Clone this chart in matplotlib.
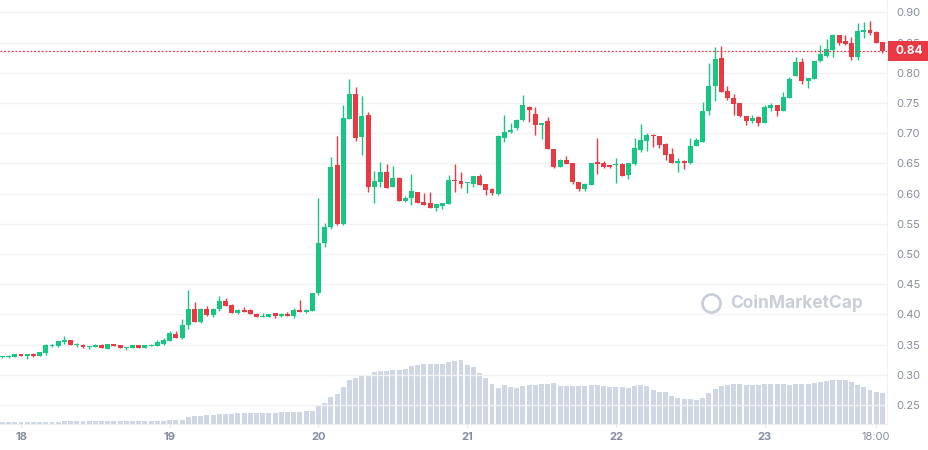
import numpy as np
import matplotlib
matplotlib.use("Agg")
import matplotlib.pyplot as plt
import matplotlib.dates as mdates
from matplotlib.patches import Rectangle
import pandas as pd

plt.rcParams['font.family'] = ['Inter', 'DejaVu Sans']

# hourly candles, first one is 17th 21:00
START = '2024-01-17 21:00'

opens = [
    0.3300, 0.3300, 0.3301, 0.3344, 0.3317, 0.3349, 0.3312, 0.3365, 0.3478, 0.3478,
    0.3538, 0.3570, 0.3489, 0.3500, 0.3462, 0.3462, 0.3489, 0.3430, 0.3505, 0.3489,
    0.3446, 0.3446, 0.3489, 0.3446, 0.3478, 0.3473, 0.3516, 0.3559, 0.3680, 0.3605,
    0.3820, 0.4090, 0.3870, 0.4090, 0.3985, 0.4090, 0.4225, 0.4150, 0.4030, 0.4075,
    0.4070, 0.4007, 0.3963, 0.3963, 0.4023, 0.3975, 0.4007, 0.3975, 0.4073, 0.4040,
    0.4056, 0.4350, 0.5187, 0.5450, 0.6470, 0.5500, 0.7238, 0.7646, 0.6940, 0.7298,
    0.6105, 0.6188, 0.6354, 0.6110, 0.6254, 0.5878, 0.5928, 0.6022, 0.5856, 0.5840,
    0.5762, 0.5795, 0.5823, 0.6221, 0.6204, 0.6166, 0.6160, 0.6288, 0.6155, 0.6071,
    0.6000, 0.6927, 0.7022, 0.7077, 0.7211, 0.7428, 0.7322, 0.7139, 0.7194, 0.6738,
    0.6444, 0.6555, 0.6500, 0.6194, 0.6071, 0.6138, 0.6516, 0.6500, 0.6472, 0.6472,
    0.6488, 0.6305, 0.6488, 0.6727, 0.6877, 0.6977, 0.6955, 0.6822, 0.6655, 0.6511,
    0.6538, 0.6505, 0.6794, 0.6861, 0.7372, 0.7772, 0.8237, 0.7698, 0.7578, 0.7495,
    0.7287, 0.7193, 0.7270, 0.7160, 0.7424, 0.7468, 0.7369, 0.7589, 0.7945, 0.8176,
    0.7869, 0.7902, 0.8198, 0.8280, 0.8379, 0.8621, 0.8522, 0.8500, 0.8258, 0.8676,
    0.8703, 0.8670, 0.8505,
]
highs = [
    0.3317, 0.3333, 0.3344, 0.3350, 0.3350, 0.3366, 0.3380, 0.3505, 0.3505, 0.3560,
    0.3634, 0.3581, 0.3522, 0.3505, 0.3478, 0.3505, 0.3505, 0.3510, 0.3510, 0.3492,
    0.3460, 0.3492, 0.3492, 0.3492, 0.3505, 0.3570, 0.3602, 0.3730, 0.3730, 0.3930,
    0.4410, 0.4210, 0.4110, 0.4140, 0.4100, 0.4310, 0.4270, 0.4165, 0.4090, 0.4125,
    0.4085, 0.4023, 0.4020, 0.4010, 0.4025, 0.4023, 0.4040, 0.4105, 0.4236, 0.4090,
    0.4350, 0.5924, 0.5514, 0.6602, 0.6950, 0.7464, 0.7895, 0.7762, 0.7613, 0.7348,
    0.6370, 0.6520, 0.6486, 0.6453, 0.6271, 0.5967, 0.6320, 0.6030, 0.6005, 0.6022,
    0.5823, 0.5840, 0.6304, 0.6486, 0.6354, 0.6183, 0.6288, 0.6316, 0.6160, 0.6090,
    0.6970, 0.7305, 0.7166, 0.7230, 0.7639, 0.7455, 0.7433, 0.7170, 0.7272, 0.6738,
    0.6572, 0.6622, 0.6500, 0.6194, 0.6170, 0.6510, 0.6927, 0.6540, 0.6480, 0.6594,
    0.6500, 0.6500, 0.6927, 0.7150, 0.7005, 0.6985, 0.6960, 0.6830, 0.6755, 0.6594,
    0.6555, 0.6922, 0.6917, 0.7522, 0.8154, 0.8418, 0.8440, 0.7781, 0.7644, 0.7500,
    0.7290, 0.7303, 0.7280, 0.7468, 0.7495, 0.7470, 0.7682, 0.7934, 0.8258, 0.8236,
    0.7913, 0.8193, 0.8456, 0.8566, 0.8648, 0.8625, 0.8621, 0.8588, 0.8818, 0.8840,
    0.8851, 0.8687, 0.8505,
]
lows = [
    0.3279, 0.3279, 0.3295, 0.3310, 0.3263, 0.3296, 0.3305, 0.3333, 0.3467, 0.3452,
    0.3516, 0.3489, 0.3462, 0.3446, 0.3425, 0.3460, 0.3441, 0.3430, 0.3473, 0.3441,
    0.3409, 0.3443, 0.3446, 0.3443, 0.3478, 0.3473, 0.3495, 0.3559, 0.3600, 0.3590,
    0.3760, 0.3880, 0.3860, 0.3980, 0.3960, 0.4060, 0.4145, 0.4030, 0.4010, 0.4040,
    0.4005, 0.3963, 0.3963, 0.3960, 0.3947, 0.3963, 0.3975, 0.3947, 0.4040, 0.4015,
    0.4050, 0.4318, 0.5120, 0.5420, 0.5480, 0.5480, 0.7238, 0.6873, 0.6641, 0.6028,
    0.5845, 0.6105, 0.6090, 0.6110, 0.5878, 0.5856, 0.5806, 0.5845, 0.5806, 0.5762,
    0.5713, 0.5750, 0.5823, 0.6022, 0.6088, 0.6010, 0.6110, 0.6138, 0.5970, 0.5970,
    0.5970, 0.6860, 0.7000, 0.7050, 0.7195, 0.7178, 0.6961, 0.6900, 0.6744, 0.6427,
    0.6444, 0.6488, 0.6160, 0.6044, 0.6044, 0.6138, 0.6322, 0.6427, 0.6427, 0.6177,
    0.6294, 0.6238, 0.6470, 0.6694, 0.6710, 0.6772, 0.6750, 0.6555, 0.6505, 0.6360,
    0.6410, 0.6483, 0.6790, 0.6850, 0.7300, 0.7539, 0.7687, 0.7550, 0.7303, 0.7259,
    0.7138, 0.7160, 0.7111, 0.7160, 0.7358, 0.7276, 0.7369, 0.7589, 0.7945, 0.7814,
    0.7753, 0.7902, 0.8182, 0.8264, 0.8264, 0.8456, 0.8456, 0.8209, 0.8209, 0.8577,
    0.8621, 0.8489, 0.8324,
]
closes = [
    0.3310, 0.3317, 0.3344, 0.3317, 0.3344, 0.3312, 0.3376, 0.3489, 0.3495, 0.3554,
    0.3570, 0.3489, 0.3500, 0.3462, 0.3473, 0.3489, 0.3441, 0.3505, 0.3473, 0.3441,
    0.3457, 0.3489, 0.3446, 0.3489, 0.3495, 0.3538, 0.3570, 0.3683, 0.3605, 0.3830,
    0.4090, 0.3880, 0.4090, 0.3990, 0.4090, 0.4225, 0.4145, 0.4030, 0.4075, 0.4040,
    0.4010, 0.3963, 0.3980, 0.4007, 0.3975, 0.4007, 0.3975, 0.4073, 0.4040, 0.4073,
    0.4350, 0.5187, 0.5448, 0.6436, 0.5500, 0.7249, 0.7646, 0.6923, 0.7282, 0.6100,
    0.6204, 0.6354, 0.6094, 0.6254, 0.5878, 0.5922, 0.6039, 0.5845, 0.5806, 0.5762,
    0.5823, 0.5840, 0.6221, 0.6210, 0.6155, 0.6177, 0.6288, 0.6138, 0.6066, 0.6010,
    0.6960, 0.7022, 0.7055, 0.7222, 0.7472, 0.7378, 0.7139, 0.7166, 0.6744, 0.6444,
    0.6555, 0.6488, 0.6194, 0.6083, 0.6155, 0.6500, 0.6488, 0.6444, 0.6444, 0.6488,
    0.6294, 0.6500, 0.6760, 0.6888, 0.6972, 0.6960, 0.6805, 0.6638, 0.6505, 0.6538,
    0.6510, 0.6788, 0.6888, 0.7372, 0.7772, 0.8226, 0.7687, 0.7578, 0.7490, 0.7276,
    0.7193, 0.7248, 0.7160, 0.7435, 0.7468, 0.7358, 0.7600, 0.7896, 0.8176, 0.7869,
    0.7913, 0.8193, 0.8308, 0.8390, 0.8621, 0.8489, 0.8473, 0.8258, 0.8687, 0.8703,
    0.8659, 0.8489, 0.8355,
]
# rolling volume, millions
volumes = [
    6, 6, 6, 6, 6, 6, 6, 6, 6, 6,
    9, 9, 9, 9, 9, 9, 9, 9, 9, 9,
    9, 9, 9, 9, 9, 9, 9, 13, 13, 13,
    22, 25, 25, 27, 27, 30, 30, 30, 33, 33,
    33, 33, 33, 33, 33, 36, 36, 36, 37, 39,
    39, 57, 63, 81, 90, 111, 132, 138, 147, 147,
    155, 159, 159, 162, 162, 165, 174, 177, 180, 180,
    180, 180, 186, 189, 192, 177, 171, 153, 138, 120,
    108, 117, 111, 108, 114, 117, 117, 120, 120, 123,
    114, 114, 114, 114, 114, 117, 117, 114, 111, 111,
    111, 108, 114, 117, 114, 102, 96, 96, 84, 78,
    75, 75, 72, 78, 93, 105, 114, 117, 120, 120,
    117, 117, 117, 120, 120, 120, 120, 117, 120, 120,
    120, 123, 126, 129, 132, 132, 132, 126, 117, 111,
    102, 96, 93,
]

day_ticks = ['2024-01-18', '2024-01-19', '2024-01-20', '2024-01-21', '2024-01-22', '2024-01-23']
hour_tick = '2024-01-23 18:00'

GREEN = '#16c784'
RED = '#ea3943'
GREY = '#858ca2'

times = pd.date_range(START, periods=len(closes), freq='h')
x = mdates.date2num(times)
o = np.array(opens)
c = np.array(closes)
up = c >= o
colors = np.where(up, GREEN, RED)
w = 0.8 / 24

fig = plt.figure(figsize=(9.29, 4.5), dpi=100)
rect = [0, 26 / 450, 887 / 929, 424 / 450]
axv = fig.add_axes(rect)
ax = fig.add_axes(rect)
ax.patch.set_visible(False)

xlim = (x[0] - 0.39 / 24, x[-1] + 0.74 / 24)

# volume underneath
axv.bar(x, volumes, width=w, color='#cfd6e4', linewidth=0)
axv.set_ylim(0, 424 * 3)
axv.set_xlim(*xlim)
axv.axis('off')

# candles
ax.vlines(x, lows, highs, colors=colors, linewidth=1, zorder=3)
ax.bar(x, np.maximum(np.abs(c - o), 0.0017), bottom=np.minimum(o, c), width=w,
       color=colors, linewidth=0, zorder=4)

ax.set_xlim(*xlim)
ax.set_ylim(0.2184, 0.9204)

ax.set_yticks(np.arange(0.25, 0.901, 0.05))
ax.set_yticklabels([f'{v:.2f}' for v in np.arange(0.25, 0.901, 0.05)])
ax.yaxis.tick_right()
ax.tick_params(axis='y', length=0, pad=6.5, labelsize=8, labelcolor=GREY)
ax.grid(axis='y', color='#f2f2f4', linewidth=1)
ax.set_axisbelow(True)

tick_pos = list(mdates.date2num(pd.to_datetime(day_ticks))) + [mdates.date2num(pd.Timestamp(hour_tick))]
tick_lab = [str(pd.Timestamp(d).day) for d in day_ticks] + ['18:00']
ax.set_xticks(tick_pos)
ax.set_xticklabels(tick_lab)
ax.tick_params(axis='x', length=2.5, width=0.8, color='#dcdfe6', pad=3,
               labelsize=8, labelcolor=GREY)
for lab in ax.get_xticklabels()[:-1]:
    lab.set_fontweight('bold')

for side in ['top', 'left']:
    ax.spines[side].set_visible(False)
ax.spines['bottom'].set_color('#eceef2')
ax.spines['right'].set_color('#f2f2f4')

# last price line and tag
last = closes[-1]
ax.axhline(last, color=RED, linewidth=0.9, linestyle=(0, (1.5, 1.5)), zorder=5)
tr = ax.get_yaxis_transform()
ax.add_patch(Rectangle((1.0015, last - 0.0166), 0.0462, 0.0332, transform=tr,
                       facecolor=RED, edgecolor='none', clip_on=False, zorder=6))
ax.text(1.0015 + 0.0231, last, f'{last:.2f}', transform=tr, ha='center', va='center',
        color='white', fontsize=8.5, fontweight='bold', zorder=7, clip_on=False)

# watermark
ax.plot([0.8016], [0.285], marker='o', markersize=13, markerfacecolor='none',
        markeredgecolor='#c9ced8', markeredgewidth=2, transform=ax.transAxes, zorder=1)
ax.text(0.898, 0.285, 'CoinMarketCap', transform=ax.transAxes, ha='center', va='center',
        fontsize=12.5, fontweight='bold', color='#c9ced8', zorder=1)

fig.savefig('out.png', dpi=100)
